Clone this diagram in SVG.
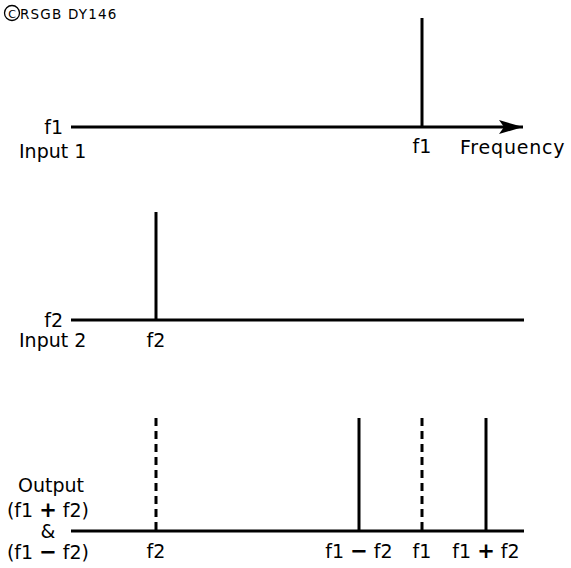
<svg xmlns="http://www.w3.org/2000/svg" width="571" height="568" viewBox="0 0 571 568">
<style>
text{font-family:"DejaVu Sans","Liberation Sans",sans-serif;font-size:19px;fill:#000}
.c{text-anchor:middle}
.e{text-anchor:end}
.ax{stroke:#000;stroke-width:3;fill:none}
.sp{stroke:#000;stroke-width:3;fill:none}
.ds{stroke:#000;stroke-width:3;fill:none;stroke-dasharray:8 5}
.sm{font-size:13.5px;letter-spacing:1.2px}
.b{font-weight:bold;font-size:21px}
</style>
<defs>
<marker id="arr" markerWidth="24" markerHeight="14" refX="24" refY="7" orient="auto" markerUnits="userSpaceOnUse">
<path d="M0,0 L24,7 L0,14 L5,7 Z" fill="#000"/>
</marker>
</defs>
<rect width="571" height="568" fill="#fff"/>
<g id="copyright">
<circle cx="12" cy="13" r="7.5" fill="none" stroke="#000" stroke-width="1.3"/>
<text x="12" y="17.5" class="c" style="font-size:11px">C</text>
<text x="20" y="18.5" class="sm">RSGB DY146</text>
</g>
<g id="connectors">
<line class="ax" x1="71" y1="127" x2="523" y2="127" marker-end="url(#arr)"/>
<line class="ax" x1="71" y1="320" x2="524" y2="320"/>
<line class="ax" x1="71" y1="531" x2="524" y2="531"/>
</g>
<g id="input1">
<line class="sp" x1="422" y1="18" x2="422" y2="127"/>
<text x="63" y="134" class="e">f1</text>
<text x="19" y="158">Input 1</text>
<text x="422" y="153" class="c">f1</text>
<text x="460" y="154" style="letter-spacing:0.8px">Frequency</text>
</g>
<g id="input2">
<line class="sp" x1="156" y1="212" x2="156" y2="320"/>
<text x="63" y="327" class="e">f2</text>
<text x="19" y="347">Input 2</text>
<text x="156" y="347" class="c">f2</text>
</g>
<g id="output">
<line class="ds" x1="156" y1="418" x2="156" y2="531"/>
<line class="sp" x1="359" y1="418" x2="359" y2="531"/>
<line class="ds" x1="422" y1="418" x2="422" y2="531"/>
<line class="sp" x1="486" y1="418" x2="486" y2="531"/>
<text x="51" y="492" class="c">Output</text>
<text x="48" y="517" class="c">(f1 <tspan class="b">+</tspan> f2)</text>
<text x="48" y="538" class="c">&amp;</text>
<text x="48" y="559" class="c">(f1 <tspan class="b">−</tspan> f2)</text>
<text x="156" y="558" class="c">f2</text>
<text x="359" y="558" class="c">f1 <tspan class="b">−</tspan> f2</text>
<text x="422" y="558" class="c">f1</text>
<text x="486" y="558" class="c">f1 <tspan class="b">+</tspan> f2</text>
</g>
</svg>
